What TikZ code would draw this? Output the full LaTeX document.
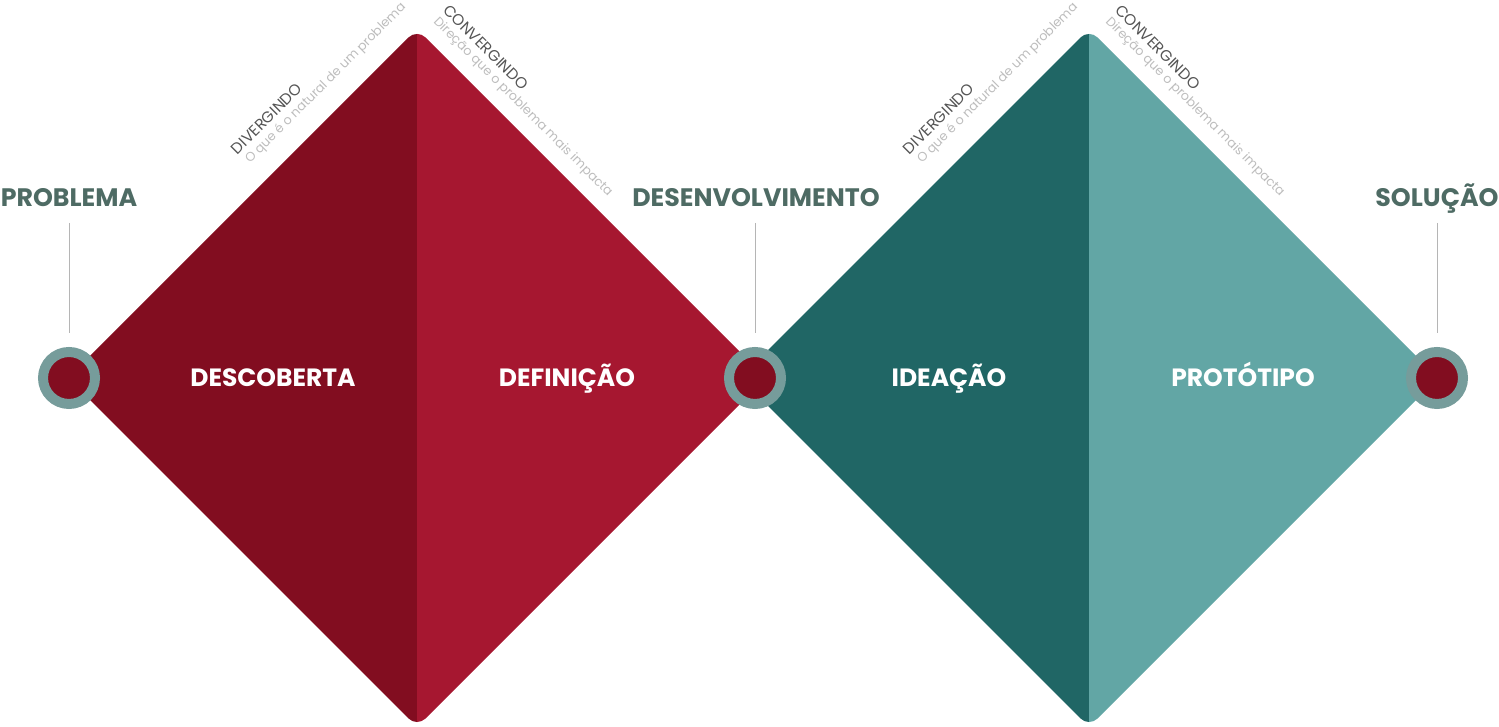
\documentclass[tikz,border=0pt]{standalone}
\usepackage{fontspec}
\setmainfont{Poppins}
\usetikzlibrary{positioning}
\definecolor{redDark}{HTML}{820D20}
\definecolor{redLight}{HTML}{A61730}
\definecolor{tealDark}{HTML}{206665}
\definecolor{tealLight}{HTML}{62A6A5}
\definecolor{ringGrey}{HTML}{769C9B}
\definecolor{labelGreen}{HTML}{4E6B64}
\definecolor{phaseGrey}{HTML}{555555}
\definecolor{hintGrey}{HTML}{BDBDBD}
\definecolor{tickGrey}{HTML}{B5B5B5}
\begin{document}
\begin{tikzpicture}
[x=1pt,y=1pt,
stage/.style={font=\bfseries\fontsize{25}{25}\selectfont,text=white,inner sep=0pt,anchor=base},
milestone/.style={font=\bfseries\fontsize{25.3}{25.3}\selectfont,text=labelGreen,inner sep=0pt,anchor=base},
ring/.style={circle,draw=ringGrey,line width=10pt,fill=redDark,minimum size=52pt,inner sep=0pt},
phase/.style={font=\fontsize{15.5}{15.5}\selectfont,text=phaseGrey,inner sep=0pt,anchor=base west},
hint/.style={font=\fontsize{12.7}{12.7}\selectfont,text=hintGrey,inner sep=0pt,anchor=base west},
tick/.style={draw=tickGrey,line width=0.8pt,shorten <=16pt,shorten >=14pt}]
\useasboundingbox (0,0) rectangle (1499,727);

% first diamond
\begin{scope}
\clip (0,0) rectangle (417,727);
\fill[redDark,rounded corners=12pt] (417,698) -- (68,349) -- (417,0) -- (766,349) -- cycle;
\end{scope}
\begin{scope}
\clip (417,0) rectangle (800,727);
\fill[redLight,rounded corners=12pt] (417,698) -- (68,349) -- (417,0) -- (766,349) -- cycle;
\end{scope}

% second diamond
\begin{scope}
\clip (700,0) rectangle (1089,727);
\fill[tealDark,rounded corners=12pt] (1089,698) -- (740,349) -- (1089,0) -- (1438,349) -- cycle;
\end{scope}
\begin{scope}
\clip (1089,0) rectangle (1499,727);
\fill[tealLight,rounded corners=12pt] (1089,698) -- (740,349) -- (1089,0) -- (1438,349) -- cycle;
\end{scope}

\node[stage] (descoberta) at (273,340) {DESCOBERTA};
\node[stage] (definicao) at (567,340) {DEFINIÇÃO};
\node[stage] (ideacao) at (949,340) {IDEAÇÃO};
\node[stage] (prototipo) at (1243,340) {PROTÓTIPO};

\node[hint,rotate=45] (divA) at (250,563) {O que é o natural de um problema};
\node[phase,rotate=45] (divAt) at (237.5,571.5) {DIVERGINDO};
\node[hint,rotate=-45] (convA) at (433,705) {Direção que o problema mais impacta};
\node[phase,rotate=-45] (convAt) at (442,716) {CONVERGINDO};
\node[hint,rotate=45] (divB) at (922,563) {O que é o natural de um problema};
\node[phase,rotate=45] (divBt) at (909.5,571.5) {DIVERGINDO};
\node[hint,rotate=-45] (convB) at (1105,705) {Direção que o problema mais impacta};
\node[phase,rotate=-45] (convBt) at (1114,716) {CONVERGINDO};

\node[ring] (start) at (69,349) {};
\node[ring] (mid) at (755,349) {};
\node[ring] (end) at (1437,349) {};

\node[milestone] (problema) at (69,520) {PROBLEMA};
\node[milestone] (desenv) at (756,520) {DESENVOLVIMENTO};
\node[milestone] (solucao) at (1437,520) {SOLUÇÃO};

\draw[tick] (problema.base) -- (start.north);
\draw[tick] (desenv.base -| mid.north) -- (mid.north);
\draw[tick] (solucao.base) -- (end.north);
\end{tikzpicture}
\end{document}
